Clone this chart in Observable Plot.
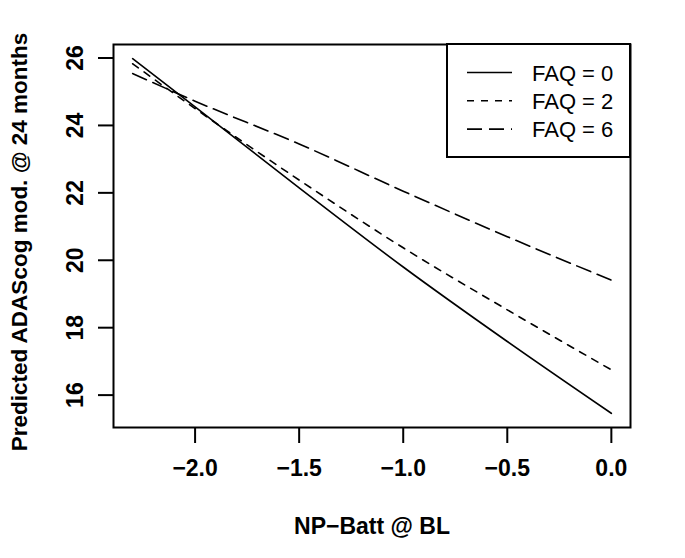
<!DOCTYPE html>
<html>
<head>
<meta charset="utf-8">
<script src="https://cdn.jsdelivr.net/npm/d3@7"></script>
<script src="https://cdn.jsdelivr.net/npm/@observablehq/plot@0.6"></script>
<style>
  html, body { margin: 0; padding: 0; background: #fff; }
  #wrap { position: relative; width: 685px; height: 558px; }
  #legend { position: absolute; left: 0; top: 0; }
  #wrap g[aria-label="x-axis tick label"], #wrap g[aria-label="y-axis tick label"] {
    font-size: 23px; font-weight: bold;
  }
</style>
</head>
<body>
<div id="wrap"></div>
<script>
// ---- data ----
const npBatt = [-2.3, -2.0, -1.5, -1.0, -0.5, 0.0];
const faq0 = [25.98, 24.55, 22.15, 19.80, 17.59, 15.46];
const faq2 = [25.83, 24.50, 22.38, 20.37, 18.53, 16.75];
const faq6 = [25.54, 24.72, 23.45, 22.05, 20.70, 19.41];
const seriesNames = ["FAQ = 0", "FAQ = 2", "FAQ = 6"];
const xTicks = [-2.0, -1.5, -1.0, -0.5, 0.0];
const yTicks = [16, 18, 20, 22, 24, 26];
const xTitle = "NP\u2212Batt @ BL";
const yTitle = "Predicted ADAScog mod. @ 24 months";

const seriesValues = [faq0, faq2, faq6];
const dashes = [null, "7,7", "15,7"];

const rows = [];
seriesNames.forEach((name, s) => {
  npBatt.forEach((x, i) => rows.push({series: name, x, y: seriesValues[s][i]}));
});

// R-style 4% padding of the data range
function rPad([a, b]) { const r = b - a; return [a - 0.04 * r, b + 0.04 * r]; }
const xDomain = rPad(d3.extent(npBatt));
const yDomain = rPad(d3.extent(seriesValues.flat()));

const font = "'Liberation Sans', Arial, sans-serif";

const chart = Plot.plot({
  width: 685,
  height: 558,
  marginLeft: 113,
  marginRight: 55,
  marginTop: 44,
  marginBottom: 131,
  style: {fontFamily: font, background: "#fff", color: "#000"},
  x: {domain: xDomain},
  y: {domain: yDomain},
  marks: [
    Plot.frame({stroke: "#000", strokeWidth: 2}),
    Plot.axisX({
      ticks: xTicks, tickSize: 16, tickPadding: 16, strokeWidth: 2,
      tickFormat: d3.format(".1f"), fontSize: 23, fontWeight: "bold", label: null
    }),
    Plot.axisY({
      ticks: yTicks, tickSize: 15, tickPadding: 16, tickRotate: -90, strokeWidth: 2,
      fontSize: 23, fontWeight: "bold", label: null
    }),
    ...seriesNames.map((name, s) =>
      Plot.line(rows.filter(d => d.series === name), {
        x: "x", y: "y", curve: "monotone-x",
        stroke: "#000", strokeWidth: 1.6,
        strokeDasharray: dashes[s]
      })
    ),
    Plot.text([xTitle], {
      frameAnchor: "bottom", dy: 106, lineAnchor: "bottom", textAnchor: "middle",
      fontSize: 23, fontWeight: "bold", fill: "#000"
    }),
    Plot.text([yTitle], {
      frameAnchor: "left", dx: -87, dy: 6, rotate: -90, lineAnchor: "bottom", textAnchor: "middle",
      fontSize: 22.5, fontWeight: "bold", fill: "#000"
    })
  ]
});

const wrap = document.getElementById("wrap");
wrap.appendChild(chart);

// ---- legend (top-right inside the plot box) ----
const ns = "http://www.w3.org/2000/svg";
const leg = document.createElementNS(ns, "svg");
leg.setAttribute("id", "legend");
leg.setAttribute("width", 685);
leg.setAttribute("height", 558);
leg.style.pointerEvents = "none";
const box = document.createElementNS(ns, "rect");
box.setAttribute("x", 447); box.setAttribute("y", 44);
box.setAttribute("width", 183); box.setAttribute("height", 113);
box.setAttribute("fill", "#fff"); box.setAttribute("stroke", "#000");
box.setAttribute("stroke-width", 2);
leg.appendChild(box);
seriesNames.forEach((name, s) => {
  const cy = 72.5 + s * 28.3;
  const ln = document.createElementNS(ns, "line");
  ln.setAttribute("x1", 467); ln.setAttribute("x2", 512);
  ln.setAttribute("y1", cy); ln.setAttribute("y2", cy);
  ln.setAttribute("stroke", "#000"); ln.setAttribute("stroke-width", 1.6);
  if (dashes[s]) ln.setAttribute("stroke-dasharray", dashes[s]);
  leg.appendChild(ln);
  const tx = document.createElementNS(ns, "text");
  tx.setAttribute("x", 532); tx.setAttribute("y", cy + 8);
  tx.setAttribute("font-family", font);
  tx.setAttribute("font-size", 22);
  tx.setAttribute("fill", "#000");
  tx.textContent = name;
  leg.appendChild(tx);
});
wrap.appendChild(leg);
</script>
</body>
</html>
